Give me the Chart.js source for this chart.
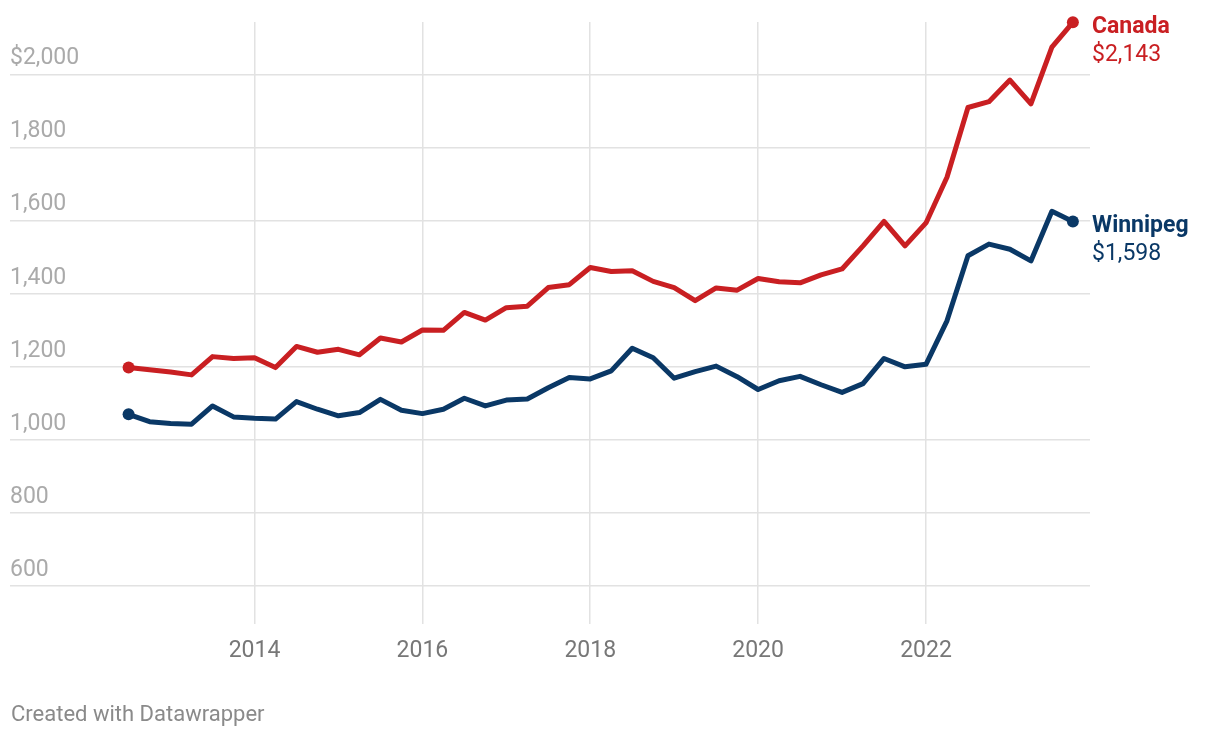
<!DOCTYPE html>
<html>
<head>
<meta charset="utf-8">
<script src="https://cdn.jsdelivr.net/npm/chart.js@4.4.1/dist/chart.umd.min.js"></script>
<style>
  html, body { margin: 0; background: #fff; }
  #wrap { position: relative; width: 1220px; height: 738px; }
</style>
</head>
<body>
<div id="wrap"><canvas id="rentChart"></canvas></div>
<script>
/* ======================================================
    DATA (average rent, quarterly)
====================================================== */
const quarters = [
    '2012 Q3', '2012 Q4',
    '2013 Q1', '2013 Q2', '2013 Q3', '2013 Q4',
    '2014 Q1', '2014 Q2', '2014 Q3', '2014 Q4',
    '2015 Q1', '2015 Q2', '2015 Q3', '2015 Q4',
    '2016 Q1', '2016 Q2', '2016 Q3', '2016 Q4',
    '2017 Q1', '2017 Q2', '2017 Q3', '2017 Q4',
    '2018 Q1', '2018 Q2', '2018 Q3', '2018 Q4',
    '2019 Q1', '2019 Q2', '2019 Q3', '2019 Q4',
    '2020 Q1', '2020 Q2', '2020 Q3', '2020 Q4',
    '2021 Q1', '2021 Q2', '2021 Q3', '2021 Q4',
    '2022 Q1', '2022 Q2', '2022 Q3', '2022 Q4',
    '2023 Q1', '2023 Q2', '2023 Q3', '2023 Q4'
];
const canada = [
    1198, 1192, 1186, 1178, 1228, 1223, 1225, 1198, 1256, 1240,
    1248, 1233, 1279, 1268, 1301, 1300, 1349, 1328, 1362, 1366,
    1417, 1425, 1472, 1461, 1463, 1434, 1417, 1381, 1416, 1410,
    1442, 1433, 1430, 1452, 1468, 1531, 1598, 1531, 1594, 1719,
    1910, 1926, 1985, 1920, 2075, 2143
];
const winnipeg = [
    1070, 1050, 1045, 1043, 1093, 1063, 1059, 1057, 1105, 1084,
    1066, 1075, 1111, 1081, 1072, 1084, 1114, 1093, 1109, 1112,
    1143, 1171, 1167, 1189, 1251, 1225, 1169, 1187, 1202, 1173,
    1138, 1162, 1174, 1151, 1130, 1154, 1223, 1200, 1207, 1326,
    1504, 1536, 1522, 1490, 1626, 1598
];
const seriesNames = ['Canada', 'Winnipeg'];
const seriesColors = ['#c91f22', '#0a3866'];

const yTicks = [600, 800, 1000, 1200, 1400, 1600, 1800, 2000];
const yTickLabels = ['600', '800', '1,000', '1,200', '1,400', '1,600', '1,800', '$2,000'];
const xTicks = [2014, 2016, 2018, 2020, 2022];
const xTickLabels = ['2014', '2016', '2018', '2020', '2022'];

// "2013 Q2" -> 2013.25
function quarterToYear(q) {
    const [y, qq] = q.split(' Q');
    return Number(y) + (Number(qq) - 1) / 4;
}

function toPoints(values) {
    return values.map((v, i) => ({ x: quarterToYear(quarters[i]), y: v }));
}

/* ======================================================
    PLUGIN: end labels + footer
====================================================== */
const endLabels = {
    id: 'endLabels',
    afterDatasetsDraw(chart) {
        const ctx = chart.ctx;
        const x = chart.chartArea.right + 2;
        chart.data.datasets.forEach((ds, i) => {
            const meta = chart.getDatasetMeta(i);
            const pt = meta.data[meta.data.length - 1];
            const last = ds.data[ds.data.length - 1].y;
            ctx.save();
            ctx.fillStyle = ds.borderColor;
            ctx.textAlign = 'left';
            ctx.textBaseline = 'middle';
            ctx.font = 'bold 23px Roboto';
            ctx.fillText(ds.label, x, pt.y + 5);
            ctx.font = '23px Roboto';
            ctx.fillText('$' + last.toLocaleString('en-US'), x, pt.y + 33);
            ctx.restore();
        });

        ctx.save();
        ctx.fillStyle = '#8a8a8a';
        ctx.font = '22px Roboto';
        ctx.textBaseline = 'middle';
        ctx.fillText('Created with Datawrapper', 11, 715);
        ctx.restore();
    }
};

/* ======================================================
    CHART
====================================================== */
Chart.defaults.font.family = 'Roboto';

const lastIdx = quarters.length - 1;
const datasets = [canada, winnipeg].map((vals, i) => ({
    label: seriesNames[i],
    data: toPoints(vals),
    borderColor: seriesColors[i],
    backgroundColor: seriesColors[i],
    borderWidth: 5,
    borderJoinStyle: 'round',
    borderCapStyle: 'round',
    pointRadius: c => (c.dataIndex === 0 || c.dataIndex === lastIdx) ? 6 : 0,
    pointHoverRadius: 0,
    pointBorderWidth: 0,
    pointBackgroundColor: seriesColors[i],
    tension: 0,
    clip: false
}));

new Chart(document.getElementById('rentChart').getContext('2d'), {
    type: 'line',
    data: { datasets },
    options: {
        responsive: true,
        maintainAspectRatio: false,
        animation: false,
        layout: { padding: { left: 10, right: 130, top: 22, bottom: 60 } },
        plugins: { legend: { display: false }, tooltip: { enabled: false } },
        scales: {
            x: {
                type: 'linear',
                min: 2011.087,
                max: 2023.954,
                afterBuildTicks: s => { s.ticks = xTicks.map(v => ({ value: v })); },
                grid: { color: '#e2e2e2', lineWidth: 1.5, drawTicks: false },
                border: { display: false },
                ticks: {
                    padding: 13,
                    color: '#777',
                    autoSkip: false,
                    maxRotation: 0,
                    font: { size: 23 },
                    callback: v => xTickLabels[xTicks.indexOf(v)]
                }
            },
            y: {
                min: 495,
                max: 2144,
                afterBuildTicks: s => { s.ticks = yTicks.map(v => ({ value: v })); },
                grid: { color: '#e2e2e2', lineWidth: 1.5, drawTicks: false },
                border: { display: false },
                ticks: {
                    mirror: true,
                    padding: 0,
                    labelOffset: -16,
                    color: '#aaa',
                    font: { size: 23 },
                    callback: v => yTickLabels[yTicks.indexOf(v)]
                }
            }
        }
    },
    plugins: [endLabels]
});
</script>
</body>
</html>
